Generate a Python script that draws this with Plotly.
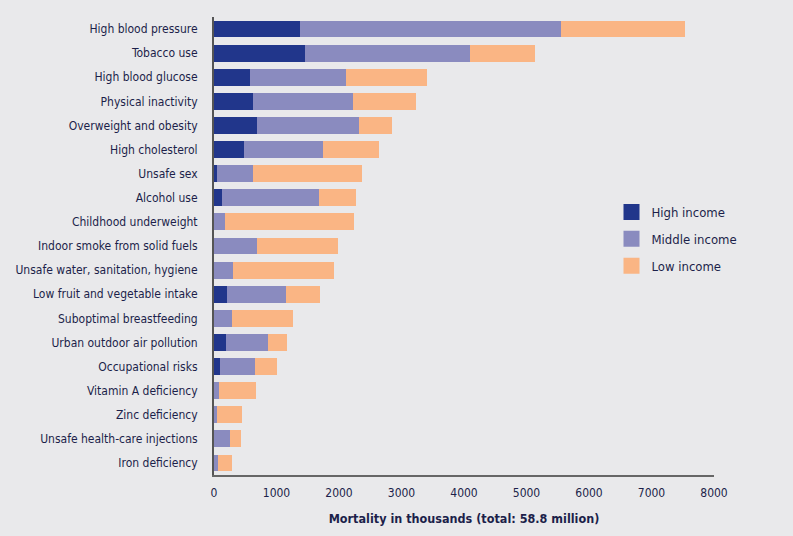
import plotly.graph_objects as go

categories = [
    "High blood pressure", "Tobacco use", "High blood glucose", "Physical inactivity",
    "Overweight and obesity", "High cholesterol", "Unsafe sex", "Alcohol use",
    "Childhood underweight", "Indoor smoke from solid fuels",
    "Unsafe water, sanitation, hygiene", "Low fruit and vegetable intake",
    "Suboptimal breastfeeding", "Urban outdoor air pollution", "Occupational risks",
    "Vitamin A deficiency", "Zinc deficiency", "Unsafe health-care injections",
    "Iron deficiency",
]
high_income = [1373, 1450, 572, 620, 684, 476, 43, 123, 0, 0, 0, 203, 0, 187, 91, 0, 0, 0, 0]
middle_income = [4183, 2648, 1538, 1603, 1635, 1266, 577, 1555, 171, 684, 300, 946, 284, 674, 561, 75, 43, 252, 59]
low_income = [1987, 1041, 1296, 1009, 529, 897, 1747, 593, 2068, 1298, 1618, 545, 977, 304, 353, 593, 401, 176, 225]

x_ticks = [0, 1000, 2000, 3000, 4000, 5000, 6000, 7000, 8000]

FONT = "DejaVu Sans Condensed, Liberation Sans Narrow, sans-serif"
TEXT = "#1c1f4a"
BG = "#e9e9eb"

fig = go.Figure()
series = [
    ("High income", high_income, "#21368b"),
    ("Middle income", middle_income, "#8a8bbf"),
    ("Low income", low_income, "#fab584"),
]
for name, vals, col in series:
    fig.add_trace(go.Bar(
        y=categories, x=vals, name=name, orientation="h", legendgroup=name,
        showlegend=False,
        marker=dict(color=col, line=dict(width=0)),
    ))
# legend entries with larger square swatches
for name, vals, col in series:
    fig.add_trace(go.Scatter(
        x=[None], y=[None], mode="markers", name=name, legendgroup=name,
        marker=dict(symbol="square", size=16, color=col),
        hoverinfo="skip",
    ))

fig.update_layout(
    barmode="stack",
    bargap=0.3,
    width=793, height=536,
    paper_bgcolor=BG, plot_bgcolor=BG,
    margin=dict(l=214, r=79, t=17, b=61, autoexpand=False),
    font=dict(family=FONT, size=12, color=TEXT),
    legend=dict(
        x=0.795, y=0.607, xanchor="left", yanchor="top",
        bgcolor="rgba(0,0,0,0)", traceorder="grouped",
        font=dict(size=13, color=TEXT), itemwidth=30, tracegroupgap=7,
        itemsizing="trace",
    ),
    xaxis=dict(
        range=[0, 8000], tickvals=x_ticks, ticktext=[str(v) for v in x_ticks],
        showgrid=False, zeroline=False, showline=True, linecolor="#666666", linewidth=2,
        ticks="", ticklabelstandoff=6, automargin=False,
        tickfont=dict(size=12, color=TEXT),
        title=dict(text="<b>Mortality in thousands (total: 58.8 million)</b>",
                   font=dict(size=12.5, color=TEXT), standoff=15),
    ),
    yaxis=dict(
        categoryorder="array", categoryarray=categories, autorange="reversed",
        showgrid=False, zeroline=False, showline=True, linecolor="#555555", linewidth=2,
        ticks="", ticklabelstandoff=12, automargin=False,
        tickfont=dict(size=12, color=TEXT),
    ),
)

fig.write_html("out.html", config={"displayModeBar": False},
               post_script="document.body.style.margin='0';")
